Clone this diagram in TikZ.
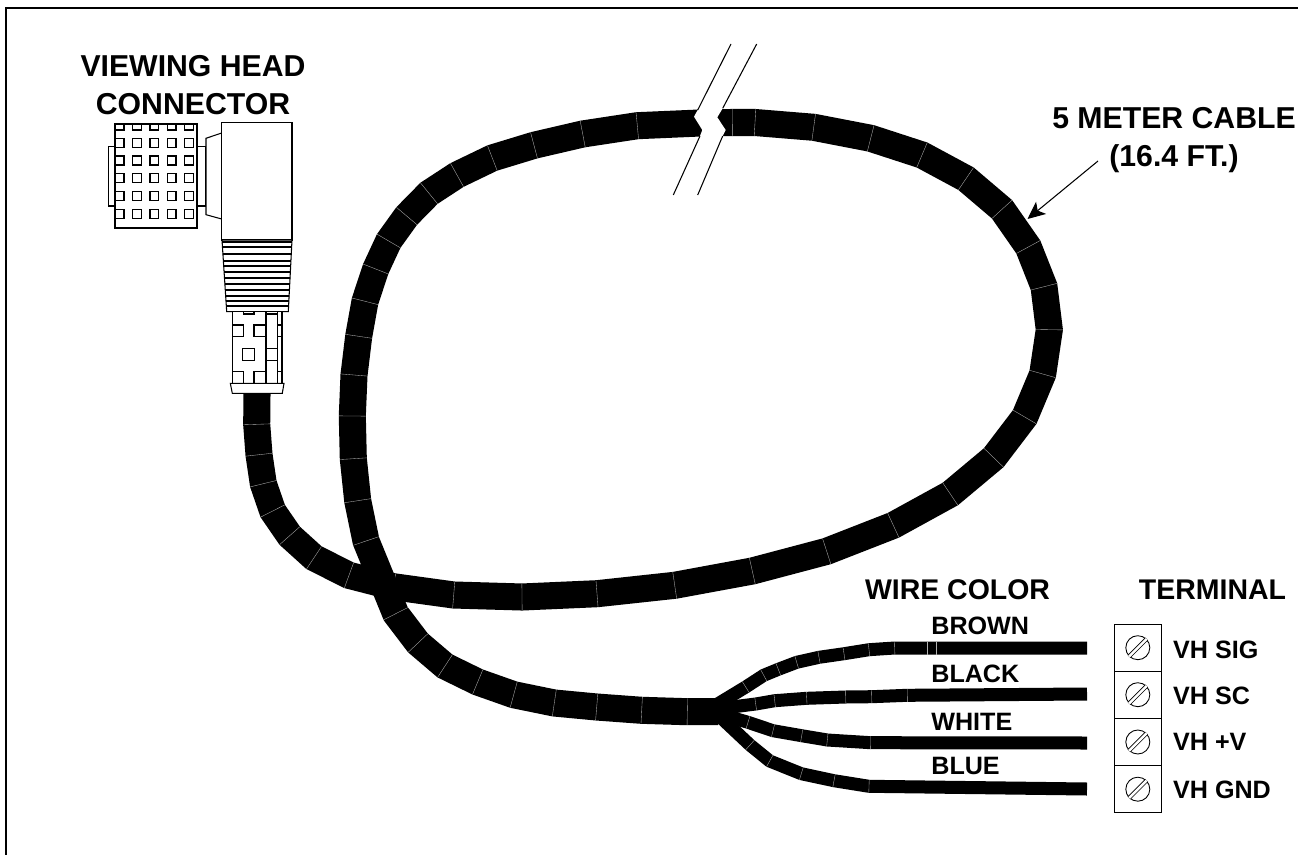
\documentclass[tikz,border=0pt]{standalone}
\usepackage{fontspec}
\setmainfont{Liberation Sans}
\usepackage{tikz}
\usetikzlibrary{arrows.meta, positioning, calc}

% style, half width, first point, other points
\newcommand{\cablerun}[5]{
    \draw[#1] (#3,#4) \foreach \cx/\cy in {#5} { -- (\cx,\cy) };
    \gdef\lastx{#3}\gdef\lasty{#4}
    \foreach \cx/\cy [count=\ci] in {#5} {
        \ifnum\ci>1
            \draw[tick] ($(\lastx,\lasty)+($(\prevx,\prevy)!#2!90:(\cx,\cy)$)-(\prevx,\prevy)$) -- ($(\lastx,\lasty)+($(\prevx,\prevy)!#2!-90:(\cx,\cy)$)-(\prevx,\prevy)$);
        \fi
        \global\let\prevx\lastx
        \global\let\prevy\lasty
        \global\let\lastx\cx
        \global\let\lasty\cy
    }
}

\begin{document}
\begin{tikzpicture}[
    x=0.02cm, y=-0.02cm,
    part/.style={draw=black, line width=0.6pt, fill=white},
    thinline/.style={draw=black, line width=0.6pt},
    tick/.style={draw=gray!60, line width=0.2pt},
    cable/.style={draw=black, line width=15.4pt},
    wire/.style={draw=black, line width=7.4pt},
    headlabel/.style={font=\fontsize{17.2}{21.2}\selectfont\bfseries, inner sep=0pt, align=center},
    biglabel/.style={font=\fontsize{16.2}{20}\selectfont\bfseries, inner sep=0pt},
    smalllabel/.style={font=\fontsize{14.3}{17}\selectfont\bfseries, inner sep=0pt},
    termbox/.style={rectangle, draw=black, line width=0.6pt, minimum width=0.94cm, minimum height=0.94cm, inner sep=0pt},
    screw/.style={circle, draw=black, line width=0.5pt, minimum size=0.48cm, inner sep=0pt}
]
\useasboundingbox (0,0) rectangle (1298,855);
\draw[line width=1.3pt] (6,855) -- (6,8) -- (1298,8);

% Long cable, connector to break
\cablerun{cable}{7.65pt}{257}{393}{256.7/424.3, 259/454.7, 263.3/483.7, 272.7/511, 289.7/535.7, 314/557.7, 349/575.3, 393.3/586.7, 453.7/595, 522/597, 597/593.7, 674.7/585.3, 752.3/571, 826.7/551.3, 893.3/525.3, 950.3/494, 993.7/457.7, 1024.7/417, 1042.7/374, 1049.3/329.7, 1044/286.7, 1028.3/247, 1002/209.3, 966/178.7, 922/155, 870.7/138.3, 813.7/127.3, 755/122.5, 732.3/122.5, 700/123}
% Long cable, break to wires
\cablerun{cable}{7.65pt}{700}{123}{637.3/125.7, 582.7/134, 534/145.3, 492.3/158, 457/175, 429/193.3, 406.7/216, 388.7/241, 375.7/269, 365/301.3, 358.7/336.3, 354/375, 352.3/416, 353.3/458.7, 357.7/500.7, 366/541, 395.7/613.7, 418/643, 445/666, 477.7/682, 513.7/694.7, 554.3/703, 596.7/707, 641.7/710.3, 687.3/711.7, 718/711.7}

% Wires
\cablerun{wire}{3.7pt}{716}{705}{745.7/687, 763.7/675.3, 778.3/669.3, 796.7/662.3, 819/657.3, 844/653.7, 869/649.7, 894.7/648, 926.7/648, 935.7/648, 1087/648}
\cablerun{wire}{3.7pt}{716}{709}{755.7/704, 774.7/700.7, 806.7/698.3, 845.7/697, 871.7/696.7, 907.3/695.3, 1087/694}
\cablerun{wire}{3.7pt}{716}{713}{748/722.3, 773/730.7, 801.7/735.7, 827.3/740, 870.7/742.7, 1087/743}
\cablerun{wire}{3.7pt}{716}{713}{750/745, 769.7/761, 801.3/773.7, 834/780.7, 869/786.3, 1087/789}

% Break in cable
\fill[white] (731,44) -- (697.7,110) -- (694,116.7) -- (702.3,130) -- (700,136) -- (673.3,195) -- (697.7,195) -- (722.7,136) -- (725.7,130) -- (717.3,117.3) -- (722.7,108.3) -- (756.7,44) -- cycle;
\draw[thinline] (731,44) -- (697.7,110);
\draw[thinline] (700,136) -- (673.3,195);
\draw[thinline] (756.7,44) -- (722.7,108.3);
\draw[thinline] (722.7,136) -- (697.7,195);

% Connector pins
\draw[part] (108.5,146.5) rectangle (115,206);
\draw[part] (115,124) rectangle (197,228);
\foreach \py in {138.3,156,173.7,191.7,209.3} {
    \foreach \px in {132.7,150,167.3,184.7}
        \draw[thinline] (\px,\py) rectangle ++(8.7,9);
    \draw[thinline] (115,\py) -- ++(9,0) -- ++(0,9) -- ++(-9,0);
}
\foreach \px in {132.7,150,167.3,184.7} {
    \draw[thinline] (\px,124) -- ++(0,6) -- ++(8.7,0) -- ++(0,-6);
}
\draw[thinline] (115,124) -- ++(0,6) -- ++(9,0) -- ++(0,-6);

% Connector neck
\draw[part] (197,146.5) rectangle (206,206);
\draw[part] (206,138.3) -- (221.7,133) -- (221.7,219) -- (206,214.7) -- cycle;

% Connector body
\draw[part] (221.7,122.3) rectangle (292,240);
\draw[part] (222,240) -- (292,240) -- (288.3,311.7) -- (226.7,311.7) -- cycle;
\begin{scope}
    \clip (222,240) -- (292,240) -- (288.3,311.7) -- (226.7,311.7) -- cycle;
    \foreach \ry in {242,247,254,261,266,272,278,284,290,296,301,306}
        \draw[thinline] (220,\ry) -- (295,\ry);
\end{scope}

% Connector sleeve
\draw[part] (232.7,311.7) rectangle (282,383.3);
\draw[thinline] (266,311.7) -- (266,383.3);
\draw[thinline] (277.3,311.7) -- (277.3,383.3);
\foreach \sx/\sw in {232.7/10.6,254/12,277.3/4.7} {
    \draw[thinline] (\sx,325) rectangle ++(\sw,11.7);
    \draw[thinline] (\sx,371.7) rectangle ++(\sw,11.6);
}
\draw[thinline] (242.7,348.3) rectangle (254.3,360.7);
\draw[thinline] (266,348.3) rectangle (277.3,360.7);
\draw[thinline] (243.3,311.7) rectangle (254,314);
\draw[thinline] (266,311.7) rectangle (277.3,314);
\draw[part] (230.3,383.3) -- (284,383.3) -- (282.3,393.3) -- (232.3,393.3) -- cycle;

% Terminal block
\node[termbox] (t1) at (1137.8,647.7) {};
\node[termbox] (t2) at (1137.8,694.7) {};
\node[termbox] (t3) at (1137.8,742) {};
\node[termbox] (t4) at (1137.8,789.2) {};
\foreach \n in {1,2,3,4} {
    \node[screw] (s\n) at (t\n) {};
    \draw[black, line width=0.45pt, double=white, double distance=1.4pt] (s\n.225) -- (s\n.45);
}

% Terminal labels
\node[smalllabel, right=0.22cm of t1, yshift=-1pt] (lsig) {VH SIG};
\node[smalllabel, right=0.22cm of t2, yshift=-0.5pt] (lsc) {VH SC};
\node[smalllabel, right=0.22cm of t3] (lv) {VH +V};
\node[smalllabel, right=0.22cm of t4, yshift=-0.5pt] (lgnd) {VH GND};

% Wire labels
\node[smalllabel, anchor=west] (brown) at (931,626) {BROWN};
\node[smalllabel, anchor=west] (black) at (931,674) {BLACK};
\node[smalllabel, anchor=west] (white) at (931,722) {WHITE};
\node[smalllabel, anchor=west] (blue) at (931,766) {BLUE};

% Headings
\node[biglabel] (wirecolor) at (957.5,590) {WIRE COLOR};
\node[biglabel] (terminal) at (1212.5,590) {TERMINAL};
\node[headlabel] (head) at (193,85) {VIEWING HEAD\\CONNECTOR};
\node[headlabel] (length) at (1174,140) {5 METER CABLE\\(16.4 FT.)};

% Leader
\coordinate (leadstart) at (1098,161);
\coordinate (leadtip) at (1027.5,219);
\draw[-{Stealth[length=10pt, width=9pt, inset=2.5pt]}, line width=0.6pt] (leadstart) -- (leadtip);
\end{tikzpicture}
\end{document}
